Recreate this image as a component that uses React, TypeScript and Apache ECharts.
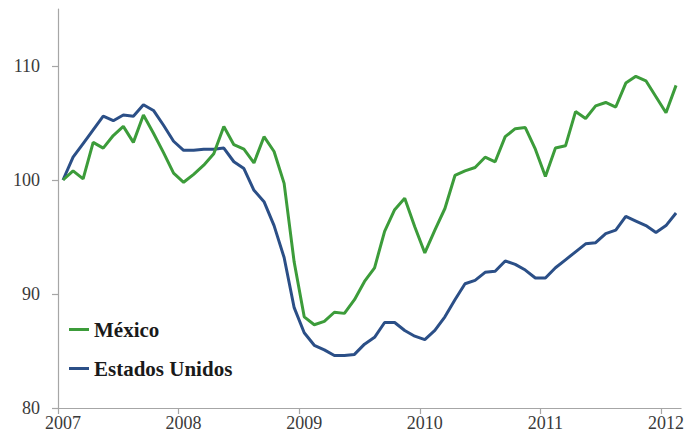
import React, { useEffect, useRef } from "react";
import * as echarts from "echarts";

// Monthly index, Jan 2007 = 100 (Jan 2007 .. Feb 2012)
const startYear = 2007;
const mexico = [
  100.0, 100.8, 100.1, 103.3, 102.8, 103.9, 104.7, 103.3, 105.7, 104.1, 102.4, 100.6,
  99.8, 100.5, 101.3, 102.3, 104.7, 103.1, 102.7, 101.5, 103.8, 102.5, 99.7, 92.8,
  88.0, 87.3, 87.6, 88.4, 88.3, 89.5, 91.1, 92.3, 95.5, 97.4, 98.4, 95.9,
  93.6, 95.6, 97.5, 100.4, 100.8, 101.1, 102.0, 101.6, 103.8, 104.5, 104.6, 102.7,
  100.3, 102.8, 103.0, 106.0, 105.4, 106.5, 106.8, 106.4, 108.5, 109.1, 108.7, 107.3,
  105.9, 108.3,
];
const estadosUnidos = [
  100.0, 102.0, 103.2, 104.4, 105.6, 105.2, 105.7, 105.6, 106.6, 106.1, 104.8, 103.4,
  102.6, 102.6, 102.7, 102.7, 102.8, 101.6, 101.0, 99.1, 98.1, 96.0, 93.2, 88.8,
  86.6, 85.5, 85.1, 84.6, 84.6, 84.7, 85.6, 86.2, 87.5, 87.5, 86.8, 86.3,
  86.0, 86.8, 88.0, 89.5, 90.9, 91.2, 91.9, 92.0, 92.9, 92.6, 92.1, 91.4,
  91.4, 92.3, 93.0, 93.7, 94.4, 94.5, 95.3, 95.6, 96.8, 96.4, 96.0, 95.4,
  96.0, 97.1,
];
const yearTicks = [0, 12, 24, 36, 48, 60]; // month index at start of each year
const yTicks = [80, 90, 100, 110];
const seriesNames = ["México", "Estados Unidos"];

export default function App() {
  const ref = useRef<HTMLDivElement>(null);
  useEffect(() => {
    if (!ref.current) return;
    const chart = echarts.init(ref.current, null, { renderer: "svg" });
    const toPts = (arr: number[]) => arr.map((v, i) => [i + 0.5, v]);
    const axisFont = {
      fontFamily: "Liberation Serif",
      fontSize: 18,
      color: "#3a3a3a",
    };
    chart.setOption({
      animation: false,
      backgroundColor: "#ffffff",
      grid: { left: 58, right: 4, top: 9, bottom: 31 },
      legend: {
        orient: "vertical",
        left: 69,
        top: 319,
        padding: 0,
        icon: "rect",
        itemWidth: 20,
        itemHeight: 3,
        itemGap: 18,
        data: seriesNames,
        textStyle: {
          fontFamily: "Liberation Serif",
          fontWeight: "bold",
          fontSize: 21,
          lineHeight: 21,
          color: "#1a1a1a",
        },
      },
      xAxis: {
        type: "value",
        min: 0,
        max: mexico.length,
        axisLine: { show: true, lineStyle: { color: "#a6a6a6", width: 1.2 } },
        axisTick: {
          show: true,
          length: 6,
          customValues: yearTicks,
          lineStyle: { color: "#a6a6a6", width: 1.2 },
        },
        axisLabel: {
          ...axisFont,
          margin: 6,
          customValues: yearTicks.map((t) => t + 0.5),
          formatter: (v: number) => String(startYear + Math.floor(v / 12)),
        },
        splitLine: { show: false },
      },
      yAxis: {
        type: "value",
        min: 80,
        max: 115,
        interval: 10,
        axisLine: { show: true, lineStyle: { color: "#a6a6a6", width: 1.2 } },
        axisTick: {
          show: true,
          length: 6,
          customValues: yTicks,
          lineStyle: { color: "#a6a6a6", width: 1.2 },
        },
        axisLabel: { ...axisFont, margin: 18, customValues: yTicks },
        splitLine: { show: false },
      },
      series: [
        {
          name: seriesNames[0],
          type: "line",
          data: toPts(mexico),
          showSymbol: false,
          symbol: "none",
          lineStyle: { color: "#3c9c3a", width: 3 },
          itemStyle: { color: "#3c9c3a" },
          z: 3,
        },
        {
          name: seriesNames[1],
          type: "line",
          data: toPts(estadosUnidos),
          showSymbol: false,
          symbol: "none",
          lineStyle: { color: "#2b4f87", width: 3 },
          itemStyle: { color: "#2b4f87" },
          z: 2,
        },
      ],
    });
    return () => chart.dispose();
  }, []);
  return (
    <div
      ref={ref}
      style={{ position: "absolute", left: 0, top: 0, width: 687, height: 439 }}
    />
  );
}
